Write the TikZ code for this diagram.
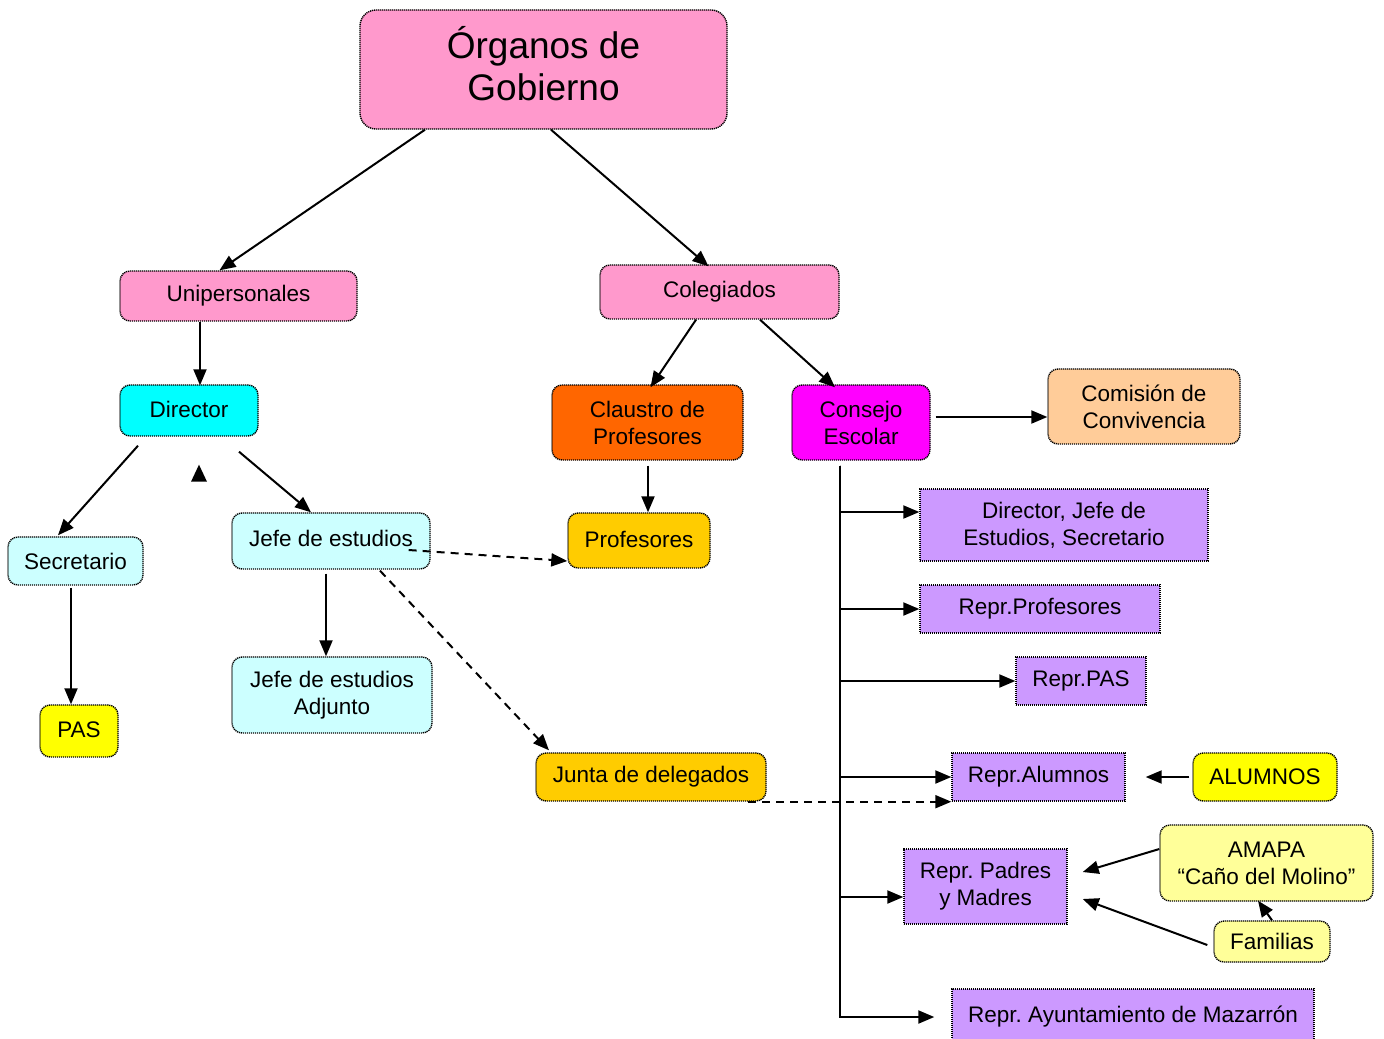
\documentclass[tikz,border=0pt]{standalone}
\usepackage{fontspec}
\setmainfont{Liberation Sans}
\usetikzlibrary{arrows.meta, calc}
\frenchspacing

\definecolor{pinkc}{HTML}{FF99CC}
\definecolor{cyanc}{HTML}{00FFFF}
\definecolor{orangec}{HTML}{FF6600}
\definecolor{magc}{HTML}{FF00FF}
\definecolor{peach}{HTML}{FFCC99}
\definecolor{lcyan}{HTML}{CCFFFF}
\definecolor{gold}{HTML}{FFCC00}
\definecolor{yel}{HTML}{FFFF00}
\definecolor{lyel}{HTML}{FFFF99}
\definecolor{lav}{HTML}{CC99FF}

\begin{document}
\begin{tikzpicture}[
  x=0.5pt, y=-0.5pt,
  every node/.style={font=\fontsize{11.25}{13.5}\selectfont},
  box/.style={rectangle, rounded corners=5pt, draw=black, line width=0.7pt,
    dash pattern=on 0.6pt off 0.4pt, align=center, inner sep=0pt},
  repr/.style={box, rounded corners=0pt, fill=lav},
  sz/.style 2 args={minimum width=#1*0.5pt, minimum height=#2*0.5pt},
  arr/.style={line width=1pt, -{Triangle[length=8pt, width=6.5pt]}},
  darr/.style={arr, dash pattern=on 4pt off 3pt}
]
\path[use as bounding box, fill=white] (0,0) rectangle (1384,1038);

% Nodes
\node[box, sz={367}{119}, fill=pinkc, rounded corners=8pt,
  font=\fontsize{18.5}{21}\selectfont] (org) at (543.5,69.5)
  {\raisebox{3.5pt}{\begin{tabular}{@{}c@{}}Órganos de\\Gobierno\end{tabular}}};
\node[box, sz={237}{50}, fill=pinkc] (uni) at (238.5,296) {Unipersonales};
\node[box, sz={239}{54}, fill=pinkc] (col) at (719.5,292) {\raisebox{1pt}{Colegiados}};
\node[box, sz={138}{51}, fill=cyanc] (dir) at (189,410.5) {\raisebox{1pt}{Director}};
\node[box, sz={191}{75}, fill=orangec] (cla) at (647.5,422.5) {Claustro de\\Profesores};
\node[box, sz={138}{75}, fill=magc] (con) at (861,422.5) {Consejo\\Escolar};
\node[box, sz={192}{75}, fill=peach] (com) at (1144,406.5) {Comisión de\\Convivencia};
\node[box, sz={135}{48}, fill=lcyan] (sec) at (75.5,561) {Secretario};
\node[box, sz={198}{56}, fill=lcyan] (jefe) at (331,541) {\raisebox{2.5pt}{Jefe de estudios}};
\node[box, sz={142}{55}, fill=gold] (prof) at (639,540.5) {\raisebox{1pt}{Profesores}};
\node[box, sz={200}{76}, fill=lcyan] (adj) at (332,695) {Jefe de estudios\\Adjunto};
\node[box, sz={78}{52}, fill=yel] (pas) at (79,731) {\raisebox{1pt}{PAS}};
\node[box, sz={230}{48}, fill=gold] (junta) at (651,777) {Junta de delegados};
\node[repr, sz={288}{72}] (rdir) at (1064,525) {Director, Jefe de\\Estudios, Secretario};
\node[repr, sz={240}{48}] (rprof) at (1040,609) {Repr.Profesores};
\node[repr, sz={130}{48}] (rpas) at (1081,681) {Repr.PAS};
\node[repr, sz={173}{48}] (ralu) at (1038.5,777) {Repr.Alumnos};
\node[box, sz={144}{48}, fill=yel] (alu) at (1265,777) {ALUMNOS};
\node[repr, sz={163}{75}] (rpad) at (985.5,886.5) {Repr. Padres\\y Madres};
\node[box, sz={213}{76}, fill=lyel] (ama) at (1266.5,863) {AMAPA\\“Caño del Molino”};
\node[box, sz={116}{41}, fill=lyel] (fam) at (1272,941.5) {Familias};
\node[repr, sz={362}{56}] (ayu) at (1133,1017) {\raisebox{2.5pt}{Repr. Ayuntamiento de Mazarrón}};

% Main branches
\draw[arr] ($(org.south)+(-118.5,0)$) -- ($(uni.north)+(-19,0)$);
\draw[arr] ($(org.south)+(7.5,0)$) -- ($(col.north)+(-11,2)$);

% Unipersonales
\draw[arr] ($(uni.south)+(-38.5,0)$) -- ($(dir.north)+(11,1)$);
\draw[arr] ($(dir.south)+(-51,9)$) -- ($(sec.north)+(-17.5,-1)$);
\draw[arr] ($(dir.south)+(50,15)$) -- ($(jefe.north)+(-20,0)$);
\fill ($(dir.south)+(10,28)$) -- ++(-8,17) -- ++(16,0) -- cycle;
\draw[arr] ($(sec.south)+(-4.5,2)$) -- ($(pas.north)+(-8,0)$);
\draw[arr] ($(jefe.south)+(-5,4)$) -- ($(adj.north)+(-6,0)$);
\draw[darr] ($(jefe.east)+(-22,9)$) -- ($(prof.west)+(0,20.5)$);
\draw[darr] ($(jefe.south)+(49,1)$) -- ($(junta.north)+(-102,-2)$);

% Colegiados
\draw[arr] ($(col.south)+(-23.5,0)$) -- ($(cla.north)+(3,3)$);
\draw[arr] ($(col.south)+(40.5,0)$) -- ($(con.north)+(-26,3)$);
\draw[arr] ($(cla.south)+(0.5,5)$) -- ($(prof.north)+(9,0)$);
\draw[arr] ($(con.east)+(5,-5.5)$) -- ($(com.west)+(0,10.5)$);

% Consejo Escolar
\coordinate (trunk) at ($(con.south)+(-21,5)$);
\draw[arr] (trunk) |- ($(rdir.west)+(0,-13)$);
\draw[arr] (trunk) |- (rprof.west);
\draw[arr] (trunk) |- (rpas.west);
\draw[arr] (trunk) |- (ralu.west);
\draw[arr] (trunk) |- ($(rpad.west)+(0,10.5)$);
\draw[arr] (trunk) |- ($(ayu.west)+(-17,0)$);
\draw[darr] ($(junta.south)+(97,0)$) -- (ralu.south west);

% Sectors
\draw[arr] ($(alu.west)+(-3,0)$) -- ($(ralu.east)+(20,0)$);
\draw[arr] ($(ama.west)+(0,-14)$) -- ($(rpad.east)+(15,-14.5)$);
\draw[arr] ($(fam.west)+(-6,3.5)$) -- ($(rpad.east)+(15,12.5)$);
\draw[arr] (fam.north) -- ($(ama.south)+(-8.5,-1)$);

\end{tikzpicture}
\end{document}
